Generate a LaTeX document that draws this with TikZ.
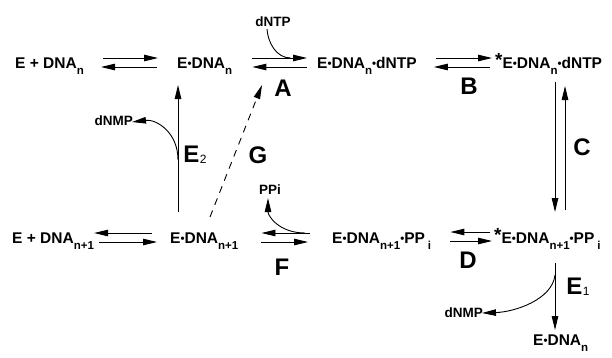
\documentclass[tikz,border=0pt]{standalone}
\usepackage{fontspec}
\setmainfont{Liberation Sans}
\usetikzlibrary{arrows.meta}

% small bullet between complex partners, lowered subscript, raised star
\newcommand\dotb{{\fontsize{11.5}{11}\selectfont\raisebox{0.5pt}{\char"2022}}}
\newcommand\lowsub[1]{\raisebox{-6.5pt}{\fontsize{11.5}{11}\selectfont #1}}
\newcommand\ster{\raisebox{1.5pt}{\fontsize{19}{19}\selectfont *}}

\tikzset{
  species/.style={inner sep=0pt, anchor=base west, font=\bfseries\fontsize{15.5}{16}\selectfont},
  small/.style={inner sep=0pt, font=\bfseries\fontsize{13.5}{13.5}\selectfont},
  steplabel/.style={inner sep=0pt, font=\bfseries\fontsize{24}{24}\selectfont},
  rx/.style={line width=0.9pt, -{Triangle[length=14pt,width=6.5pt]}},
  plain/.style={line width=0.9pt},
  gdash/.style={line width=0.9pt, dash pattern=on 7pt off 6pt, -{Triangle[length=14pt,width=6.5pt]}}
}

\begin{document}
\begin{tikzpicture}[x=1pt,y=-1pt]
\useasboundingbox (0,0) rectangle (612,357);

% ---- species ----
\node[species] (tl) at (15,68)  {E + DNA\lowsub{n}};
\node[species] (t2) at (177,68) {E\dotb DNA\lowsub{n}};
\node[species] (t3) at (317,68) {E\dotb DNA\lowsub{n}\dotb dNTP};
\node[species] (t4) at (495,68) {\ster E\dotb DNA\lowsub{n}\dotb dNTP};

\node[species] (bl) at (12,243)  {E + DNA\lowsub{n+1}};
\node[species] (b2) at (170,243) {E\dotb DNA\lowsub{n+1}};
\node[species] (b3) at (332,243) {E\dotb DNA\lowsub{n+1}\dotb PP\kern3pt\lowsub{i}};
\node[species] (b4) at (494,243) {\ster E\dotb DNA\lowsub{n+1}\dotb PP\kern3pt\lowsub{i}};
\node[species] (b5) at (533,345) {E\dotb DNA\lowsub{n}};

\node[small] (dntp) at (273,22)  {dNTP};
\node[small] (ppi)  at (270,190) {PPi};
\node[small, anchor=east] (nmpL) at (133,121) {dNMP};
\node[small, anchor=east] (nmpR) at (483,313) {dNMP};

% ---- step labels ----
\node[steplabel] (lA) at (283,88)  {A};
\node[steplabel] (lB) at (469,86)  {B};
\node[steplabel] (lC) at (582,147) {C};
\node[steplabel] (lD) at (468,260) {D};
\node[steplabel] (lF) at (282,267) {F};
\node[steplabel] (lG) at (258,155) {G};
\node[steplabel] (lE2) at (195,155) {E\kern0.5pt\raisebox{-1pt}{\fontsize{12}{12}\selectfont\mdseries 2}};
\node[steplabel] (lE1) at (578,287) {E\kern0.5pt\raisebox{-1pt}{\fontsize{12}{12}\selectfont\mdseries 1}};

% ---- top row equilibria ----
\draw[rx] ([xshift=19pt,yshift=10pt]tl.base east) -- ([xshift=-19pt,yshift=10pt]t2.base west);
\draw[rx] ([xshift=-20pt,yshift=1pt]t2.base west) -- ([xshift=17pt,yshift=1pt]tl.base east);

\draw[rx] ([xshift=20pt,yshift=10pt]t2.base east) -- ([xshift=-10pt,yshift=10pt]t3.base west)
  coordinate[pos=0.7] (aj);
\draw[rx] ([xshift=-10pt,yshift=1pt]t3.base west) -- ([xshift=20pt,yshift=1pt]t2.base east);
\draw[plain] ([xshift=-6pt,yshift=-2pt]dntp.south) .. controls +(1,14) and +(-14,0) .. (aj);

\draw[rx] ([xshift=19pt,yshift=10pt]t3.base east) -- ([xshift=-3pt,yshift=10pt]t4.base west);
\draw[rx] ([xshift=-5pt,yshift=1pt]t4.base west) -- ([xshift=17pt,yshift=1pt]t3.base east);

% ---- step C ----
\draw[rx] ([xshift=60pt,yshift=-14pt]t4.base west) -- ([xshift=61pt,yshift=31pt]b4.base west);
\draw[rx] ([xshift=71pt,yshift=33pt]b4.base west) -- ([xshift=70pt,yshift=-18pt]t4.base west);

% ---- bottom row equilibria ----
\draw[rx] ([xshift=-18pt,yshift=10pt]b2.base west) -- ([xshift=0pt,yshift=10pt]bl.base east);
\draw[rx] ([xshift=5pt,yshift=1pt]bl.base east) -- ([xshift=-13pt,yshift=1pt]b2.base west);

\draw[rx] ([xshift=-22pt,yshift=10pt]b3.base west) -- ([xshift=23pt,yshift=10pt]b2.base east)
  coordinate[pos=0.1] (fj);
\draw[rx] ([xshift=23pt,yshift=1pt]b2.base east) -- ([xshift=-24pt,yshift=1pt]b3.base west);
\draw[rx] (fj) .. controls +(-26,0) and +(0,18) .. ([xshift=-2pt,yshift=-3pt]ppi.south);

\draw[rx] ([xshift=-4pt,yshift=11pt]b4.base west) -- ([xshift=19pt,yshift=11pt]b3.base east);
\draw[rx] ([xshift=19pt,yshift=2pt]b3.base east) -- ([xshift=-2pt,yshift=2pt]b4.base west);

% ---- E2: exonucleolytic removal from E.DNA(n+1) ----
\draw[rx] ([xshift=8pt,yshift=31pt]b2.base west) -- ([xshift=1pt,yshift=-17pt]t2.base west)
  coordinate[pos=0.41] (e2j);
\draw[rx] (e2j) .. controls +(0,-28) and +(24,-3) .. ([xshift=-1pt,yshift=-1pt]nmpL.east);

% ---- G: dashed path back to E.DNA(n) ----
\draw[gdash] ([xshift=40pt,yshift=26pt]b2.base west) -- ([xshift=85pt,yshift=-17pt]t2.base west);

% ---- E1: from *E.DNA(n+1).PPi ----
\draw[rx] ([xshift=61pt,yshift=-20pt]b4.base west) -- ([xshift=22pt,yshift=15pt]b5.base west)
  coordinate[pos=0.18] (e1j);
\draw[rx] (e1j) .. controls +(-3,25) and +(32,-1) .. ([xshift=-1pt]nmpR.east);
\end{tikzpicture}
\end{document}
